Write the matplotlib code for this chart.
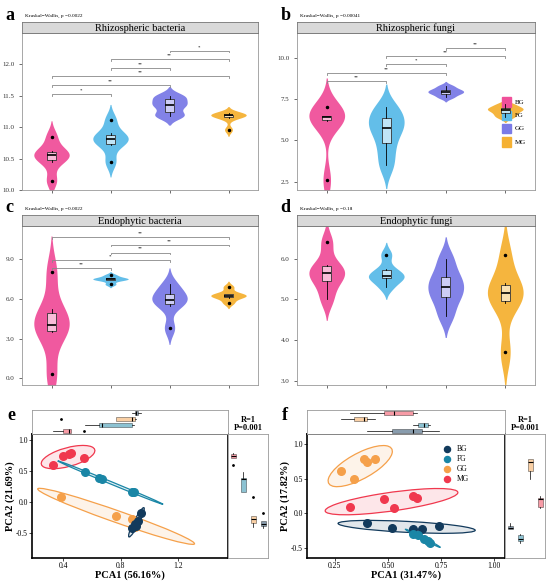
import numpy as np
import matplotlib
matplotlib.use("Agg")
import matplotlib.pyplot as plt
from matplotlib.patches import Ellipse, Rectangle

plt.rcParams['font.family'] = ['Liberation Serif', 'DejaVu Serif']

groups = ["BG", "FG", "GG", "MG"]
colors = ["#f0509a", "#5bbbe8", "#7b7be6", "#f5b133"]
pca_colors = {"BG": "#123a5c", "FG": "#1a86a6", "GG": "#f5a04a", "MG": "#f0384e"}

# violin panel data (samples per group)
rb = [[10.15, 10.45, 10.55, 10.57, 10.62, 10.85], [10.45, 10.72, 10.8, 10.83, 10.9, 11.12],
      [11.18, 11.2, 11.35, 11.36, 11.47, 11.5], [10.96, 11.15, 11.19, 11.2, 11.2, 11.22]]
rf = [[2.6, 6.2, 6.4, 6.45, 6.5, 7.0], [3.5, 4.6, 5.6, 5.9, 6.5, 7.0],
      [7.6, 7.8, 7.9, 8.0, 8.1, 8.3], [6.4, 6.6, 6.8, 6.9, 7.0, 7.2]]
eb = [[0.3, 3.5, 3.9, 4.2, 5.2, 8.0], [7.1, 7.4, 7.5, 7.5, 7.6, 7.8],
      [3.8, 5.5, 5.9, 6.0, 6.5, 7.1], [5.7, 6.1, 6.2, 6.3, 6.4, 6.9]]
ef = [[5.0, 5.4, 5.6, 5.7, 5.85, 6.4], [5.3, 5.5, 5.55, 5.6, 5.75, 6.1],
      [4.6, 5.0, 5.2, 5.4, 5.6, 6.0], [3.7, 4.9, 5.1, 5.2, 5.4, 6.1]]
titles = ["Rhizospheric bacteria", "Rhizospheric fungi", "Endophytic bacteria", "Endophytic fungi"]
pvals = ["Kruskal\u2212Wallis, p =0.0022", "Kruskal\u2212Wallis, p =0.00041",
         "Kruskal\u2212Wallis, p =0.0022", "Kruskal\u2212Wallis, p =0.18"]
letters = ["a", "b", "c", "d"]
ylims = [(10.0, 12.5), (2.0, 11.5), (-0.5, 11.5), (2.9, 6.8)]
yticks = [[10.0, 10.5, 11.0, 11.5, 12.0], [2.5, 5.0, 7.5, 10.0], [0.0, 3.0, 6.0, 9.0], [3.0, 4.0, 5.0, 6.0]]
sigs = [
    [(0, 1, 11.53, "*"), (0, 2, 11.67, "**"), (0, 3, 11.81, "**"), (1, 2, 11.94, "**"), (1, 3, 12.08, "**"), (2, 3, 12.22, "*")],
    [(0, 1, 8.6, "**"), (0, 2, 9.1, "**"), (1, 2, 9.6, "*"), (1, 3, 10.1, "**"), (2, 3, 10.6, "**")],
    [(0, 1, 8.3, "**"), (0, 2, 8.9, "*"), (1, 2, 9.5, "**"), (1, 3, 10.1, "**"), (0, 3, 10.7, "**")],
    [],
]

fig = plt.figure(figsize=(5.5, 5.81), dpi=100)
W, H = 550, 581
def ax_px(x0, y0, x1, y1):
    return fig.add_axes([x0 / W, 1 - y1 / H, (x1 - x0) / W, (y1 - y0) / H])

def violin(ax, pos, vals, c, width=0.3):
    v = np.array(vals, float)
    bw = 0.5 * v.std(ddof=1)
    grid = np.linspace(v.min() - 2.2 * bw, v.max() + 2.2 * bw, 200)
    dens = np.exp(-0.5 * ((grid[:, None] - v[None, :]) / bw) ** 2).sum(1)
    dens = dens / dens.max() * width
    ax.fill_betweenx(grid, pos - dens, pos + dens, color=c, lw=0, alpha=0.95)

boxes = [(22, 33, 258, 190), (297, 33, 535, 190), (22, 226, 258, 385), (297, 226, 535, 385)]
datas = [rb, rf, eb, ef]
for k in range(4):
    x0, y0, x1, y1 = boxes[k]
    ax = ax_px(x0, y0, x1, y1)
    st = ax_px(x0, y0 - 11, x1, y0)
    st.set_facecolor("#d9d9d9"); st.set_xticks([]); st.set_yticks([])
    for s in st.spines.values(): s.set_color("#777777"); s.set_linewidth(0.6)
    st.text(0.5, 0.45, titles[k], ha="center", va="center", fontsize=7.5)
    fig.text(x0 / W - 0.03, 1 - (y0 - 18) / H, letters[k], fontsize=13, fontweight="bold", va="center")
    fig.text(x0 / W + 0.005, 1 - (y0 - 17) / H, pvals[k], fontsize=3.8, va="center")
    d = datas[k]
    for i, (g, c) in enumerate(zip(d, colors)):
        violin(ax, i + 1, g, c)
    bp = ax.boxplot(d, positions=range(1, 5), widths=0.15, patch_artist=True, whis=1.5,
                    medianprops=dict(color="black", lw=1.2), flierprops=dict(marker="", ms=0),
                    whiskerprops=dict(lw=0.6), capprops=dict(lw=0))
    for p in bp["boxes"]:
        p.set_facecolor((1, 1, 1, 0.6)); p.set_edgecolor("#333333"); p.set_linewidth(0.6)
    for i, g in enumerate(d):
        q1, q3 = np.percentile(g, [25, 75]); iqr = q3 - q1
        out = [v for v in g if v < q1 - 1.5 * iqr or v > q3 + 1.5 * iqr]
        ax.plot([i + 1] * len(out), out, "o", color="black", ms=1.5)
    for (i, j, yy, lab) in sigs[k]:
        r = ylims[k][1] - ylims[k][0]
        ax.plot([i + 1, i + 1, j + 1, j + 1], [yy - 0.012 * r, yy, yy, yy - 0.012 * r], color="#888888", lw=0.6)
        ax.text((i + j + 2) / 2, yy + 0.01 * r, lab, ha="center", va="bottom", fontsize=3.5)
    ax.set_xlim(0.5, 4.5); ax.set_ylim(*ylims[k])
    ax.set_yticks(yticks[k]); ax.set_yticklabels([f"{t:.1f}" for t in yticks[k]], fontsize=5)
    ax.set_xticks(range(1, 5)); ax.set_xticklabels([])
    ax.tick_params(length=2, width=0.5, colors="#333333")
    for s in ax.spines.values(): s.set_color("#999999"); s.set_linewidth(0.6)
    if k == 1:
        for i, (g, c) in enumerate(zip(groups, colors)):
            yy = 0.56 - i * 0.085
            ax.add_patch(Rectangle((0.86, yy - 0.03), 0.04, 0.06, transform=ax.transAxes, color=c))
            ax.text(0.915, yy, g, transform=ax.transAxes, va="center", fontsize=5)

# PCA data
e_pts = {
    "MG": ([0.33, 0.40, 0.44, 0.45, 0.54], [0.60, 0.75, 0.78, 0.79, 0.72]),
    "FG": ([0.55, 0.65, 0.67, 0.88, 0.89], [0.48, 0.39, 0.38, 0.16, 0.17]),
    "GG": ([0.38, 0.77, 0.88, 0.90, 0.91], [0.08, -0.22, -0.27, -0.40, -0.33]),
    "BG": ([0.94, 0.88, 0.90, 0.92, 0.91], [-0.17, -0.42, -0.35, -0.30, -0.38]),
}
f_pts = {
    "BG": ([0.40, 0.52, 0.62, 0.66, 0.74], [-0.14, -0.21, -0.23, -0.23, -0.18]),
    "FG": ([0.62, 0.64, 0.67, 0.69, 0.70], [-0.30, -0.32, -0.37, -0.40, -0.43]),
    "GG": ([0.28, 0.34, 0.39, 0.40, 0.44], [0.62, 0.50, 0.78, 0.74, 0.78]),
    "MG": ([0.32, 0.48, 0.53, 0.62, 0.635], [0.09, 0.20, 0.08, 0.25, 0.22]),
}
e_lab = ("PCA1 (56.16%)", "PCA2 (21.69%)")
f_lab = ("PCA1 (31.47%)", "PCA2 (17.82%)")

def conf_ellipse(ax, x, y, c, fill):
    x = np.array(x); y = np.array(y)
    cov = np.cov(x, y)
    vals, vecs = np.linalg.eigh(cov)
    order = vals.argsort()[::-1]; vals = vals[order]; vecs = vecs[:, order]
    ang = np.degrees(np.arctan2(vecs[1, 0], vecs[0, 0]))
    s = 2 * np.sqrt(5.99)
    w, h = s * np.sqrt(vals[0]), s * np.sqrt(max(vals[1], 1e-5))
    ax.add_patch(Ellipse((x.mean(), y.mean()), w, h, angle=ang, facecolor=c if fill else "none",
                         alpha=0.12 if fill else 1, lw=0))
    ax.add_patch(Ellipse((x.mean(), y.mean()), w, h, angle=ang, facecolor="none", edgecolor=c, lw=0.9))

def pca_panel(pts, labs, xlim, ylim, xt, yt, fmt, box, letter, legend):
    x0, y0, x1, y1, rx1 = box
    ax = ax_px(x0, y0, x1, y1)
    top = ax_px(x0, y0 - 24, x1, y0)
    right = ax_px(x1, y0, rx1, y1)
    for g in pts:
        x, y = pts[g]
        conf_ellipse(ax, x, y, pca_colors[g], True)
    for g in pts:
        x, y = pts[g]
        ax.scatter(x, y, s=30, color=pca_colors[g], zorder=3, label=g)
    ax.set_xlim(*xlim); ax.set_ylim(*ylim)
    ax.set_xticks(xt); ax.set_xticklabels([fmt.format(t) for t in xt], fontsize=5.5)
    ax.set_yticks(yt); ax.set_yticklabels([f"{t:.1f}" for t in yt], fontsize=5.5)
    ax.tick_params(length=2, width=0.5, pad=1)
    ax.set_xlabel(labs[0], fontsize=7.5, fontweight="bold", labelpad=0)
    ax.set_ylabel(labs[1], fontsize=7.5, fontweight="bold", labelpad=1)
    for s in ax.spines.values(): s.set_linewidth(1.2)
    names = list(pts.keys())
    top.boxplot([pts[g][0] for g in names], vert=False, widths=0.6, patch_artist=True,
                medianprops=dict(color="black", lw=0.8), flierprops=dict(marker="o", ms=1, mfc="#444"),
                whiskerprops=dict(lw=0.5), capprops=dict(lw=0), boxprops=dict(lw=0.5))
    right.boxplot([pts[g][1] for g in names], widths=0.5, patch_artist=True,
                  medianprops=dict(color="black", lw=0.8), flierprops=dict(marker="o", ms=1, mfc="#444"),
                  whiskerprops=dict(lw=0.5), capprops=dict(lw=0), boxprops=dict(lw=0.5))
    for a in (top, right):
        for p, g in zip(a.patches, names):
            p.set_facecolor(pca_colors[g]); p.set_alpha(0.5)
        a.set_xticks([]); a.set_yticks([])
        for s in a.spines.values(): s.set_color("#999999"); s.set_linewidth(0.6)
    top.set_xlim(*xlim); right.set_ylim(*ylim)
    fig.text((x1 + rx1) / 2 / W, 1 - (y0 - 10) / H, "R=1\nP=0.001", ha="center", va="center",
             fontsize=6, fontweight="bold", linespacing=0.9)
    fig.text(x0 / W - 0.045, 1 - (y0 - 18) / H, letter, fontsize=13, fontweight="bold", va="center")
    if legend:
        order = ["BG", "FG", "GG", "MG"]
        h, l = ax.get_legend_handles_labels()
        hd = dict(zip(l, h))
        ax.legend([hd[o] for o in order], order, loc="upper right", bbox_to_anchor=(0.85, 0.97),
                  fontsize=5.5, frameon=False, handletextpad=0.2, labelspacing=0.3, markerscale=0.8)

pca_panel(e_pts, e_lab, (0.18, 1.55), (-0.9, 1.1), [0.4, 0.8, 1.2], [-0.5, 0.0, 0.5, 1.0], "{:.1f}",
          (32, 434, 228, 558, 268), "e", False)
pca_panel(f_pts, f_lab, (0.12, 1.05), (-0.65, 1.15), [0.25, 0.5, 0.75, 1.0], [-0.5, 0.0, 0.5, 1.0], "{:.2f}",
          (307, 434, 505, 558, 545), "f", True)

fig.savefig("out.png", dpi=100)
